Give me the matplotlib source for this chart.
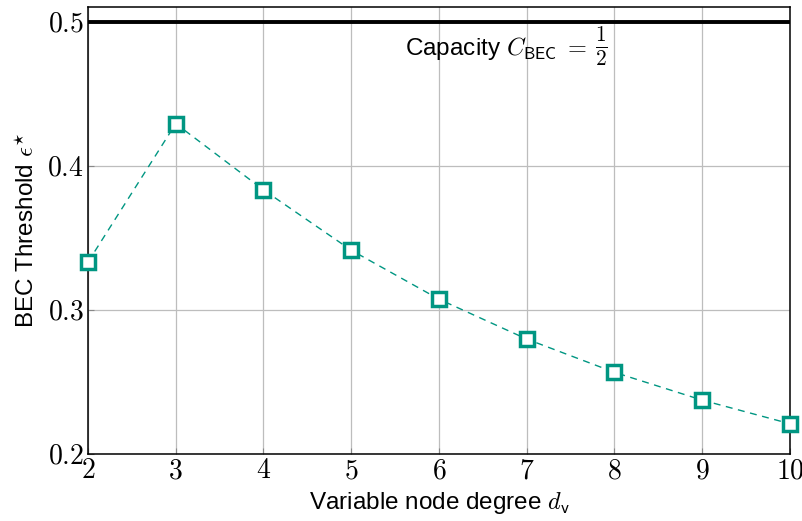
import matplotlib
matplotlib.use("Agg")
import matplotlib.pyplot as plt

plt.rcParams['mathtext.fontset'] = 'cm'
plt.rcParams['font.family'] = ['Liberation Sans', 'DejaVu Sans']

dv = [2, 3, 4, 5, 6, 7, 8, 9, 10]
threshold = [0.3333, 0.4294, 0.3834, 0.3415, 0.3075, 0.2798, 0.2567, 0.2374, 0.2210]
capacity = 0.5
xticks = [2, 3, 4, 5, 6, 7, 8, 9, 10]
yticks = [0.2, 0.3, 0.4, 0.5]

teal = '#009682'

fig = plt.figure(figsize=(8.03, 5.21), dpi=100)
ax = fig.add_axes([88/803, 1 - 454/521, (790-88)/803, (454-7)/521])

ax.axhline(capacity, color='black', lw=2.8, zorder=3)
ax.plot(dv, threshold, ls=(0, (5, 4)), lw=1.0, color=teal, marker='s',
        markersize=10, markerfacecolor='white', markeredgecolor=teal,
        markeredgewidth=2.5, zorder=4, clip_on=False)

ax.set_xlim(2, 10)
ax.set_ylim(0.2, 0.5104)
ax.set_xticks(xticks)
ax.set_xticklabels([f'${t}$' for t in xticks], fontsize=20)
ax.set_yticks(yticks)
ax.set_yticklabels([f'${t:.1f}$' for t in yticks], fontsize=20)
ax.tick_params(direction='in', length=4, width=0.8, color='#888888', pad=3)
ax.grid(True, color='#bdbdbd', lw=0.9)
ax.set_axisbelow(True)
for s in ax.spines.values():
    s.set_linewidth(1.1)

ax.text(7.69, 0.4769, r'Capacity $C_{\mathsf{BEC}}\;=$', fontsize=17.5,
        ha='right', va='baseline')
ax.text(7.85, 0.4835, r'$\frac{1}{2}$', fontsize=22, ha='center', va='center')

ax.set_xlabel(r'Variable node degree $d_{\mathsf{v}}$', fontsize=17.5, labelpad=4)
ax.set_ylabel(r'BEC Threshold $\epsilon^{\star}$', fontsize=17.5, labelpad=6)

fig.savefig('out.png', dpi=100)
